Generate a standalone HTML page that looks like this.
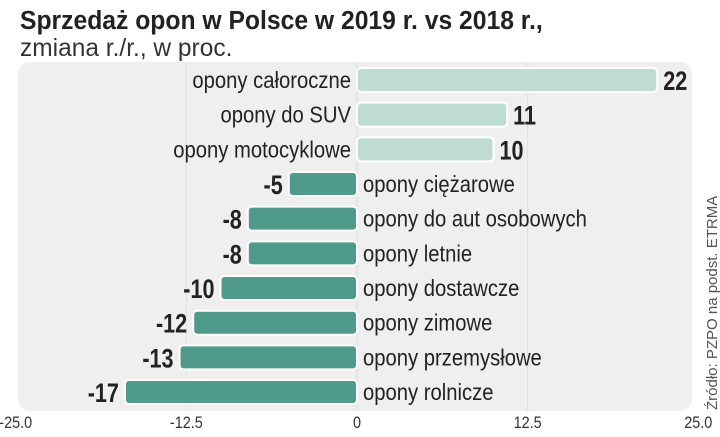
<!DOCTYPE html>
<html><head><meta charset="utf-8"><style>
body{margin:0;width:720px;height:432px;background:#fff;overflow:hidden;font-family:"Liberation Sans",sans-serif;}
svg text{font-family:"Liberation Sans",sans-serif;}
</style></head><body>
<svg width="720" height="432">
<text transform="translate(20,29) scale(0.95,1)" font-size="26" font-weight="bold" fill="#222">Sprzedaż opon w Polsce w 2019 r. vs 2018 r.,</text>
<text transform="translate(20,56) scale(0.98,1)" font-size="25" fill="#333">zmiana r./r., w proc.</text>
<rect x="18" y="62" width="674" height="349" rx="12" fill="#efefef"/>
<g id="grid"></g>
<g id="bars"></g>
<g id="ticks"></g>
<text transform="translate(717,410) rotate(-90)" font-size="15" fill="#555">Źródło: PZPO na podst. ETRMA</text>
</svg>
<script>
const categories=["opony całoroczne","opony do SUV","opony motocyklowe","opony ciężarowe","opony do aut osobowych","opony letnie","opony dostawcze","opony zimowe","opony przemysłowe","opony rolnicze"];
const values=[22,11,10,-5,-8,-8,-10,-12,-13,-17];
const tickValues=[-25,-12.5,0,12.5,25];
const tickLabels=["-25.0","-12.5","0","12.5","25.0"];
const NS="http://www.w3.org/2000/svg";
const x=v=>357+v*13.65;
const y=i=>80+i*34.67;
function mk(tag,attrs,parent,txt){const e=document.createElementNS(NS,tag);for(const k in attrs)e.setAttribute(k,attrs[k]);if(txt!==undefined)e.textContent=txt;document.getElementById(parent).appendChild(e);return e;}
tickValues.forEach((t,i)=>{
  if(t!==-25&&t!==25){const g=mk('line',{x1:x(t),x2:x(t),y1:62,y2:411,stroke:t===0?'#ddd':'#e0e0e0','stroke-width':1},'grid');
  
  }
  const tx=mk('text',{transform:`translate(${x(t)},428) scale(0.85,1)`,'font-size':17,fill:'#333','text-anchor':'middle'},'ticks',tickLabels[i]);
  
  
});
values.forEach((v,i)=>{
  const x0=Math.min(x(0),x(v)),w=Math.abs(x(v)-x(0)),cy=y(i);
  const r=mk('rect',{x:x0,y:cy-12,width:w,height:24,rx:4,fill:v>=0?'#bfdcd2':'#4f9a8a',stroke:'#fff','stroke-width':2},'bars');
  
  
  const lx=v>=0?x(0)-6:x(0)+6;
  const lab=mk('text',{transform:`translate(${lx},${cy+8}) scale(0.88,1)`,'font-size':23,fill:'#222','text-anchor':v>=0?'end':'start'},'bars',categories[i]);
  
  
  const vx=v>=0?x(v)+6:x(v)-6;
  const val=mk('text',{transform:`translate(${vx},${cy+10}) scale(0.8,1)`,'font-size':27,'font-weight':'bold',fill:'#222','text-anchor':v>=0?'start':'end'},'bars',String(v));
  
  
});
</script>
</body></html>
